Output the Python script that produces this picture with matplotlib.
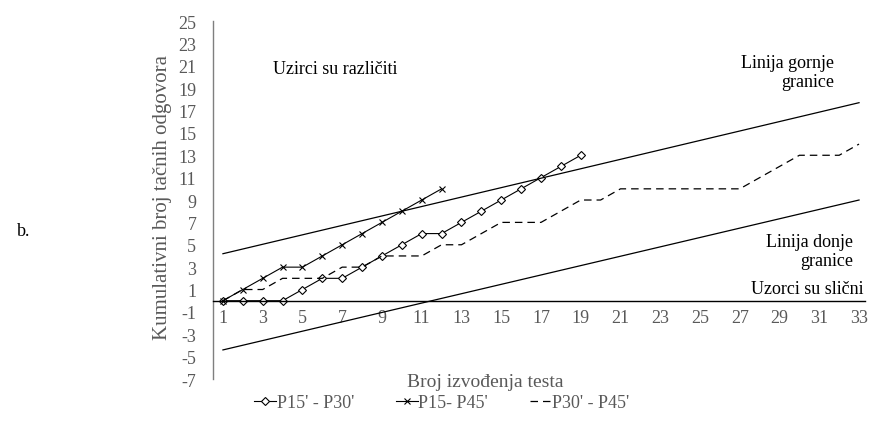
import matplotlib
matplotlib.use("Agg")
import matplotlib.pyplot as plt
from matplotlib import rcParams

rcParams['font.family'] = 'serif'
rcParams['font.serif'] = ['Liberation Serif', 'DejaVu Serif']
rcParams['axes.unicode_minus'] = False

# Podaci
x_p15_p30 = list(range(1, 20))
y_p15_p30 = [0, 0, 0, 0, 1, 2, 2, 3, 4, 5, 6, 6, 7, 8, 9, 10, 11, 12, 13]

x_p15_p45 = list(range(1, 13))
y_p15_p45 = [0, 1, 2, 3, 3, 4, 5, 6, 7, 8, 9, 10]

x_p30_p45 = list(range(1, 34))
y_p30_p45 = [0, 1, 1, 2, 2, 2, 3, 3, 4, 4, 4, 5, 5, 6, 7, 7, 7, 8, 9, 9,
             10, 10, 10, 10, 10, 10, 10, 11, 12, 13, 13, 13, 14]

# granice (krajnje tačke)
x_granice = [1, 33]
y_gornja = [4.2, 17.7]
y_donja = [-4.4, 9.0]

labels = ["P15' - P30'", "P15- P45'", "P30' - P45'"]
xticks = list(range(1, 34, 2))
yticks = list(range(-7, 26, 2))

gray = '#595959'

fig = plt.figure(figsize=(8.74, 4.31), dpi=100)
ax = fig.add_axes([0.2437, 0.1183, 0.746, 0.8306])

l1, = ax.plot(x_p15_p30, y_p15_p30, color='black', linewidth=0.8, marker='D',
              markersize=4.2, markerfacecolor='white', markeredgewidth=0.8)
l2, = ax.plot(x_p15_p45, y_p15_p45, color='black', linewidth=0.8, marker='x',
              markersize=4.5, markeredgewidth=0.8)
l3, = ax.plot(x_p30_p45, y_p30_p45, color='black', linewidth=0.9,
              linestyle=(0, (6, 4)))
ax.plot(x_granice, y_gornja, color='black', linewidth=0.9)
ax.plot(x_granice, y_donja, color='black', linewidth=0.9)

ax.set_xlim(0.5, 33.3)
ax.set_ylim(-7, 25)
ax.set_xticks(xticks)
ax.set_yticks(yticks)

ax.spines['top'].set_visible(False)
ax.spines['right'].set_visible(False)
ax.spines['bottom'].set_position(('data', 0))
ax.spines['bottom'].set_color('black')
ax.spines['bottom'].set_linewidth(1.0)
ax.spines['left'].set_color('#7f7f7f')
ax.spines['left'].set_linewidth(1.0)
ax.tick_params(axis='x', length=0, pad=6, labelsize=13, labelcolor=gray)
ax.tick_params(axis='y', length=0, pad=12, labelsize=13, labelcolor=gray)

ax.set_ylabel("Kumulativni broj tačnih odgovora", fontsize=15, color=gray, va='center')
ax.yaxis.set_label_coords(-0.077, 0.511)
ax.set_xlabel("Broj izvođenja testa", fontsize=14, color=gray, va='center')
ax.xaxis.set_label_coords(0.417, -0.006)

# natpisi
ax.text(3.52, 20.8, "Uzirci su različiti", fontsize=13, ha='left', va='center')
ax.text(31.74, 20.45, "Linija gornje\ngranice", fontsize=13, ha='right',
        va='center', multialignment='right', linespacing=1.15)
ax.text(32.7, 4.48, "Linija donje\ngranice", fontsize=13, ha='right',
        va='center', multialignment='right', linespacing=1.15)
ax.text(33.2, 1.08, "Uzorci su slični", fontsize=13, ha='right', va='center')

fig.text(0.027, 1 - 232 / 431, "b.", fontsize=13, ha='center', va='center')

fig.legend([l1, l2, l3], labels, loc='center', bbox_to_anchor=(442 / 874, 1 - 404 / 431),
           ncol=3, frameon=False, fontsize=13, handlelength=1.2, handletextpad=0.05,
           columnspacing=2.3, labelcolor=gray)

plt.savefig("out.png", dpi=100)
